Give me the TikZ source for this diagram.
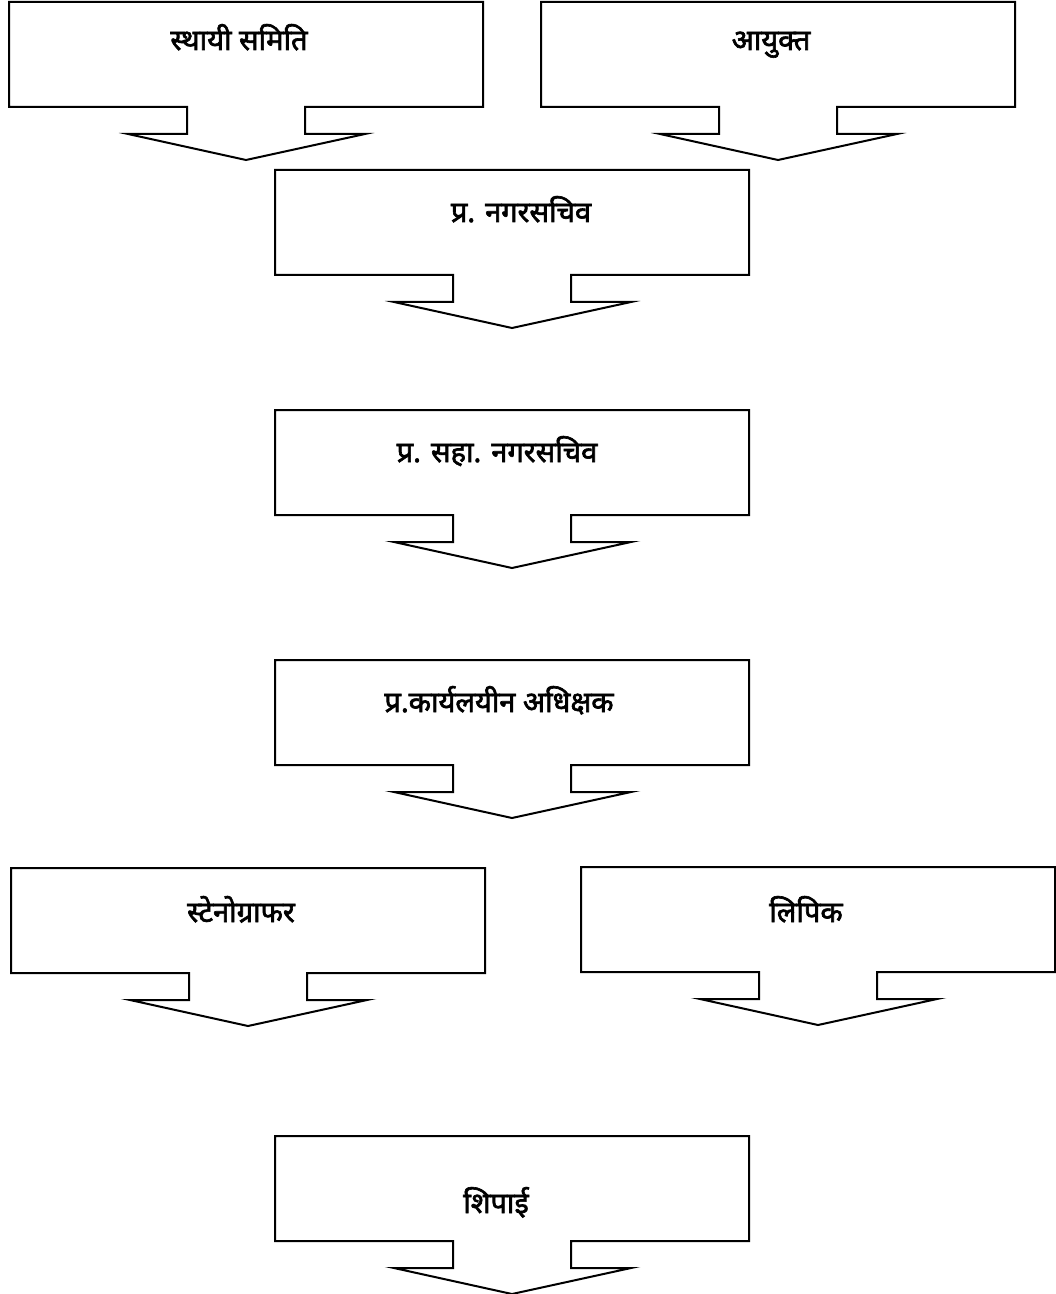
\documentclass[tikz,border=0pt]{standalone}
\usepackage{fontspec}
\newfontfamily\devfont[Script=Devanagari,AutoFakeBold=2.2]{Noto Sans}
\usetikzlibrary{positioning}

\begin{document}
\begin{tikzpicture}[x=0.5pt,y=-0.5pt,line width=1pt,line join=miter,
  title/.style={font=\devfont\bfseries\fontsize{14.5}{16}\selectfont, inner sep=0pt, anchor=base}]
\useasboundingbox (0,0) rectangle (1055,1294);

% define the boxes with their down arrows: name/centre x/top y
\foreach \n/\cx/\ty in {sthayi/246/2, ayukta/778/2, nagar/512/170, saha/512/410,
                       adhi/512/660, steno/248/868, lipik/818/867, shipai/512/1136}{
  \coordinate (\n) at (\cx,\ty);
  \draw (\cx-237,\ty+105) -- (\cx-237,\ty) -- (\cx+237,\ty) -- (\cx+237,\ty+105)
     -- (\cx+59,\ty+105) -- (\cx+59,\ty+132) -- (\cx+119,\ty+132) -- (\cx,\ty+158)
     -- (\cx-118,\ty+132) -- (\cx-59,\ty+132) -- (\cx-59,\ty+105) -- cycle;
}

% define the titles (at their base lines)
  \node[title] (t-sthayi) at (239,50)   {स्थायी समिति};
  \node[title] (t-ayukta) at (771,50)   {आयुक्त};
  \node[title] (t-nagar)  at (521,222)  {प्र. नगरसचिव};
  \node[title] (t-saha)   at (497,462)  {प्र. सहा. नगरसचिव};
  \node[title] (t-adhi)   at (499,712)  {प्र.कार्यलयीन अधिक्षक};
  \node[title] (t-steno)  at (241,922)  {स्टेनोग्राफर};
  \node[title] (t-lipik)  at (806,922)  {लिपिक};
  \node[title] (t-shipai) at (496,1213) {शिपाई};

\end{tikzpicture}
\end{document}
